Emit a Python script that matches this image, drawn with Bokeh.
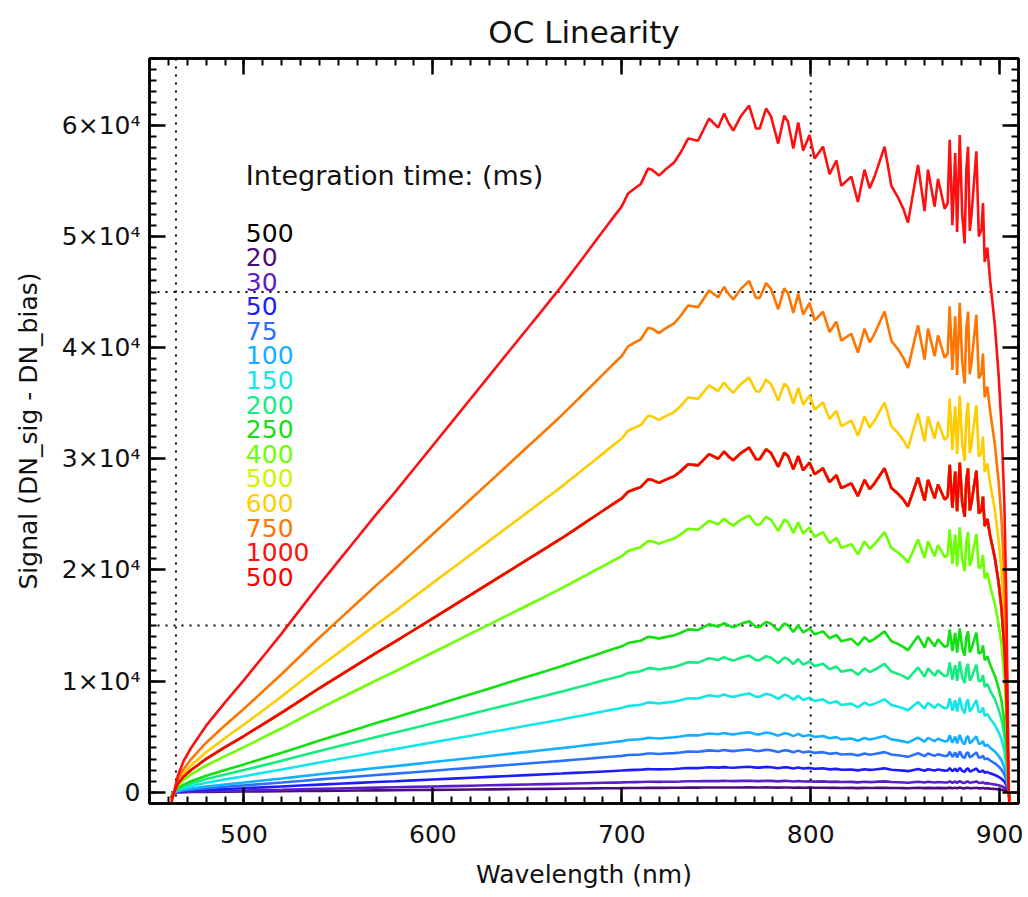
import numpy as np
from bokeh.plotting import figure
from bokeh.models import Span, Label, LinearAxis, SingleIntervalTicker, Range1d
from bokeh.embed import file_html
from bokeh.resources import INLINE

# Reference spectrum: the 1000 ms curve (nm, DN)
WAVELENGTH = [
    461.5, 463.0, 465.0, 468.0, 472.0, 476.0, 480.0, 490.0, 500.0, 510.0,
    520.0, 530.0, 540.0, 550.0, 560.0, 570.0, 580.0, 590.0, 600.0, 610.0,
    620.0, 630.0, 640.0, 650.0, 660.0, 668.0, 674.7, 680.0, 685.3, 690.6,
    695.9, 700.0, 703.3, 707.5, 710.0, 713.9, 716.0, 719.7, 723.0, 727.7,
    731.0, 735.1, 740.4, 743.0, 746.2, 751.0, 754.2, 756.5, 759.0, 763.0,
    767.4, 771.1, 773.0, 776.4, 779.0, 782.8, 786.0, 788.0, 790.8, 793.4,
    796.0, 799.4, 802.1, 806.5, 810.0, 813.6, 816.2, 821.5, 825.0, 828.5,
    831.2, 833.8, 839.1, 842.7, 846.2, 849.0, 851.5, 856.8, 860.3, 862.1,
    865.6, 867.4, 870.9, 872.5, 873.6, 875.0, 876.5, 877.5, 878.9, 880.2,
    881.5, 882.4, 883.3, 884.2, 885.1, 886.5, 887.7, 889.0, 890.4, 891.2,
    892.1, 893.5, 895.0, 897.5, 899.5, 901.0, 902.5, 903.5, 904.2, 904.7,
    905.2,
]
SIGNAL_1000MS = [
    -1000, 0, 1500, 2800, 4000, 5000, 6000, 8100, 10100, 12200,
    14300, 16500, 18700, 20800, 22900, 25000, 27000, 29100, 31200, 33300,
    35400, 37500, 39600, 41700, 43800, 45500, 47000, 48200, 49400, 50600,
    51800, 52700, 53860, 54400, 54700, 56100, 56000, 55470, 56000, 56640,
    57500, 58800, 58600, 59500, 60600, 59790, 61050, 60200, 59520, 60800,
    61770, 59700, 59700, 61500, 60800, 58350, 60870, 60300, 57900, 60240,
    57720, 59110, 57000, 58070, 55590, 56830, 54550, 55380, 53100, 56000,
    54340, 55380, 58070, 54550, 53510, 52500, 51240, 56420, 52270, 56000,
    52690, 55180, 52480, 53000, 58690, 51000, 57500, 50410, 59110, 52000,
    49370, 56000, 58070, 50500, 51860, 55000, 57660, 50000, 50620, 53000,
    47710, 49000, 46000, 42000, 37500, 33000, 26000, 18000, 9000, 1000,
    -1500,
]

# Integration times (legend order = drawing order) and the peak level of each
# curve near 767 nm
SERIES_LABELS = ["500", "20", "30", "50", "75", "100", "150", "200", "250",
                 "400", "500", "600", "750", "1000", "500"]
SERIES_PEAKS = [31000, 450, 1050, 2300, 3850, 5400, 8900, 12300, 15400,
                24900, 31000, 37300, 46000, 61770, 31000]
SERIES_COLORS = ["#000000", "#4e0c78", "#5a1ec8", "#1c1cff", "#2a70ff",
                 "#14b0ff", "#12e6e6", "#14ec80", "#12e012", "#6cff00",
                 "#d0f500", "#ffcc00", "#ff7500", "#ff1010", "#ff0000"]

X_TICKS = [500, 600, 700, 800, 900]
Y_TICKS = [0, 10000, 20000, 30000, 40000, 50000, 60000]
Y_TICK_TEXT = ["0", "1×10⁴", "2×10⁴", "3×10⁴", "4×10⁴", "5×10⁴", "6×10⁴"]

FONT = "DejaVu Sans"

p = figure(width=1028, height=897, output_backend="svg", toolbar_location=None,
           x_range=Range1d(450, 910), y_range=Range1d(-1000, 66000),
           x_axis_location=None, y_axis_location=None,
           min_border_left=149, min_border_right=10, min_border_top=58,
           min_border_bottom=94, title="OC Linearity")
p.background_fill_color = "white"
p.border_fill_color = "white"
p.xgrid.visible = False
p.ygrid.visible = False
p.outline_line_color = "black"
p.outline_line_width = 2.5

p.title.align = "center"
p.title.text_font = FONT
p.title.text_font_size = "31px"
p.title.text_font_style = "normal"
p.title.text_color = "#111111"
p.title.standoff = 18

bottom = LinearAxis(ticker=SingleIntervalTicker(interval=100, num_minor_ticks=10))
top = LinearAxis(ticker=SingleIntervalTicker(interval=100, num_minor_ticks=10))
left = LinearAxis(ticker=SingleIntervalTicker(interval=10000, num_minor_ticks=10))
right = LinearAxis(ticker=SingleIntervalTicker(interval=10000, num_minor_ticks=10))
p.add_layout(bottom, "below")
p.add_layout(left, "left")
p.add_layout(top, "above")
p.add_layout(right, "right")

for ax in (bottom, top, left, right):
    ax.axis_line_width = 2.5
    ax.axis_line_color = "black"
    ax.major_tick_in = 16
    ax.major_tick_out = 0
    ax.minor_tick_in = 7
    ax.minor_tick_out = 0
    ax.major_tick_line_width = 2.5
    ax.minor_tick_line_width = 2
    ax.major_label_text_font = FONT
    ax.major_label_text_font_size = "25px"
    ax.major_label_text_color = "#111111"
    ax.axis_label_text_font = FONT
    ax.axis_label_text_font_size = "25px"
    ax.axis_label_text_font_style = "normal"
    ax.axis_label_text_color = "#111111"

bottom.axis_label = "Wavelength (nm)"
bottom.major_label_standoff = 21
bottom.axis_label_standoff = 14
left.axis_label = "Signal (DN_sig - DN_bias)"
left.major_label_standoff = 9
left.axis_label_standoff = 16
left.major_label_overrides = {t: s for t, s in zip(Y_TICKS, Y_TICK_TEXT)}
# box axes on top and right: ticks only
top.major_label_overrides = {t: "" for t in X_TICKS}
right.major_label_overrides = {t: "" for t in Y_TICKS}
top.major_label_standoff = 0
right.major_label_standoff = 0

# dotted reference lines
for loc, dim in [(464, "height"), (800, "height"), (15000, "width"), (45000, "width")]:
    p.add_layout(Span(location=loc, dimension=dim, line_color="black",
                      line_width=2, line_dash="2 6", level="underlay"))

wl = np.array(WAVELENGTH, dtype=float)
ref = np.array(SIGNAL_1000MS, dtype=float)
ref_peak = max(SIGNAL_1000MS)
for lab, peak, col in zip(SERIES_LABELS, SERIES_PEAKS, SERIES_COLORS):
    p.line(wl, ref * (peak / ref_peak), line_color=col, line_width=2.6)

# legend text
LEG_X = 501
p.add_layout(Label(x=LEG_X, y=55470, text="Integration time: (ms)",
                   text_font=FONT, text_font_size="27px", text_color="#111111",
                   text_baseline="middle", text_align="left"))
for i, (lab, col) in enumerate(zip(SERIES_LABELS, SERIES_COLORS)):
    p.add_layout(Label(x=LEG_X, y=50350 - 2212 * i, text=lab,
                       text_font=FONT, text_font_size="25px", text_color=col,
                       text_baseline="middle", text_align="left"))

open("out.html", "w").write(file_html(p, INLINE))
